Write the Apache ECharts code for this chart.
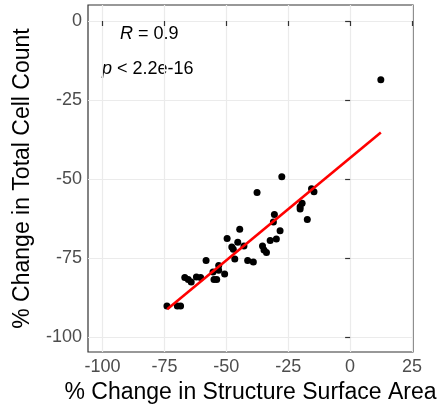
<!DOCTYPE html>
<html>
<head>
<meta charset="utf-8">
<script src="https://cdn.jsdelivr.net/npm/echarts@6/dist/echarts.min.js"></script>
<style>
  html, body { margin: 0; padding: 0; background: #fff; }
  #chart { width: 440px; height: 412px; }
</style>
</head>
<body>
<div id="chart"></div>
<script>
// surface area change (x) vs total cell count change (y)
const areaChange = [12.4, -27.6, -37.6, -15.6, -14.6, -19.4, -20.2, -20.2, -17.3, -30.6,
  -31.0, -28.3, -29.8, -32.3, -35.4, -34.8, -33.8, -44.6, -49.7, -45.4,
  -47.8, -47.2, -42.9, -46.6, -41.4, -39.1, -58.2, -53.1, -53.1, -55.4,
  -50.7, -55.0, -53.9, -66.8, -65.4, -64.2, -62.1, -60.4, -74.0, -69.8, -68.5];
const cellChange = [-18.6, -49.3, -54.3, -53.1, -54.0, -57.7, -58.8, -59.5, -62.8, -61.2,
  -63.6, -66.4, -69.0, -69.5, -71.2, -72.5, -73.3, -65.9, -68.8, -70.0,
  -71.5, -72.2, -71.2, -75.3, -75.8, -76.3, -75.8, -77.4, -78.9, -79.4,
  -80.1, -81.8, -81.8, -81.2, -81.8, -82.6, -81.0, -81.2, -90.2, -90.2, -90.2];

// lm fit line ends
const fitX = [-73.9, 12.4];
const fitY = [-91.2, -35.3];

const xTicks = [-100, -75, -50, -25, 0, 25];
const yTicks = [-100, -75, -50, -25, 0];

const font = 'Liberation Sans, Arial, sans-serif';
const chart = echarts.init(document.getElementById('chart'));

const points = areaChange.map((x, i) => [x, cellChange[i]]);
const fit = fitX.map((x, i) => [x, fitY[i]]);

chart.setOption({
  animation: false,
  grid: {
    left: 88, right: 27, top: 5, bottom: 60,
    show: true, borderColor: '#333', borderWidth: 1.2, backgroundColor: '#fff'
  },
  xAxis: {
    type: 'value', min: -105.9, max: 25.4,
    name: '% Change in Structure Surface Area',
    nameLocation: 'middle', nameGap: 29,
    nameTextStyle: { fontFamily: font, fontSize: 23, color: '#000' },
    axisLine: { show: false },
    axisTick: { show: true, length: 5, customValues: xTicks, lineStyle: { color: '#333', width: 1.2 } },
    axisLabel: { customValues: xTicks, fontFamily: font, fontSize: 18, color: '#4d4d4d', margin: 6 },
    splitLine: { show: true, lineStyle: { color: '#ebebeb', width: 1.2 } }
  },
  yAxis: {
    type: 'value', min: -104.76, max: 5.07,
    name: '% Change in Total Cell Count',
    nameLocation: 'middle', nameGap: 54,
    nameTextStyle: { fontFamily: font, fontSize: 23, color: '#000' },
    axisLine: { show: false },
    axisTick: { show: true, length: 5, customValues: yTicks, lineStyle: { color: '#333', width: 1.2 } },
    axisLabel: { customValues: yTicks, fontFamily: font, fontSize: 18, color: '#4d4d4d', margin: 6 },
    splitLine: { show: true, lineStyle: { color: '#ebebeb', width: 1.2 } }
  },
  graphic: [
    {
      type: 'text', left: 120, top: 25,
      style: {
        text: '{i|R} = 0.9', font: '18px ' + font, fill: '#000',
        rich: { i: { fontStyle: 'italic', fontFamily: font, fontSize: 18, fill: '#000' } }
      }
    },
    {
      type: 'text', left: 102, top: 60,
      style: {
        text: '{i|p} < 2.2e-16', font: '18px ' + font, fill: '#000',
        rich: { i: { fontStyle: 'italic', fontFamily: font, fontSize: 18, fill: '#000' } }
      }
    }
  ],
  series: [
    {
      type: 'scatter', data: points, symbolSize: 7,
      itemStyle: { color: '#000', opacity: 1 }, z: 3
    },
    {
      type: 'line', data: fit, symbol: 'none',
      lineStyle: { color: '#ff0000', width: 2.6 }, z: 4
    }
  ]
});
</script>
</body>
</html>
